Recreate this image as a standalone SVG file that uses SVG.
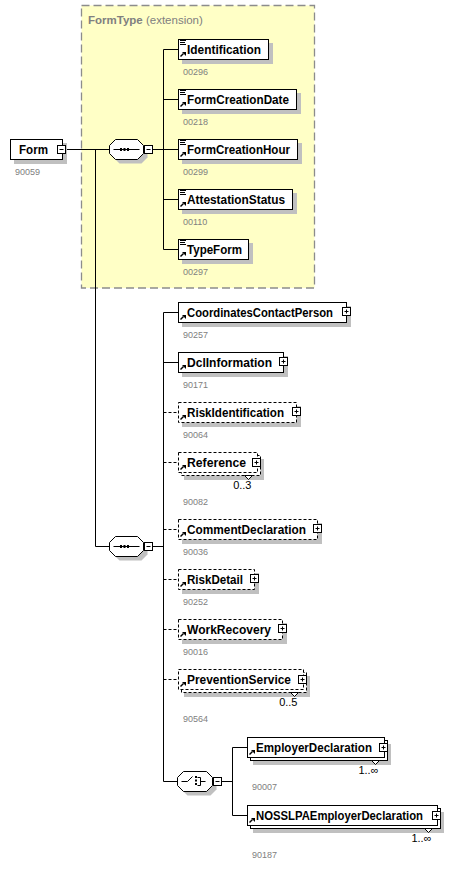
<svg xmlns="http://www.w3.org/2000/svg" width="472" height="870" viewBox="0 0 472 870">
<defs>
<style>
.area{fill:#ffffc6;stroke:#8c8c8c;stroke-width:1.3;stroke-dasharray:8,4}
.sh{fill:#c0c0c0}
.box{fill:#fff;stroke:#000;stroke-width:1}
.opt{stroke-dasharray:3,2}
.ln{fill:none;stroke:#000;stroke-width:1}
.ic{fill:none;stroke:#000;stroke-width:1}
.aw{fill:none;stroke:#000;stroke-width:1.5}
.ar{fill:#000}
.lbl{font-family:"Liberation Sans",Arial,sans-serif;font-weight:bold;font-size:12.5px;fill:#000}
.id{font-family:"Liberation Sans",Arial,sans-serif;font-size:9px;fill:#808080}
.occ{font-family:"Liberation Sans",Arial,sans-serif;font-size:11px;fill:#000}
.ttl{font-family:"Liberation Sans",Arial,sans-serif;font-size:11.5px;fill:#808080}
</style>
</defs>
<rect width="472" height="870" fill="#fff"/>

<g id="formtype-area">
<rect class="area" x="81.5" y="5.5" width="233" height="282.5"/>
<text class="ttl" x="88" y="24"><tspan font-weight="bold">FormType</tspan> (extension)</text>
</g>

<g id="connectors">
<path class="ln" d="M65.5 149.5H109.5M95.5 149.5V546.5H109.5M152.5 149.5H163.5M163.5 49.5V249.5M163.5 49.5H178.5M163.5 99.5H178.5M163.5 149.5H178.5M163.5 199.5H178.5M163.5 249.5H178.5"/>
<path class="ln" d="M152.5 546.5H163.5M163.5 312.5V781.5H177.5M163.5 312.5H178.5M163.5 362.5H178.5"/>
<path class="ln opt" d="M163.5 412.5H178.5M163.5 462.5H178.5M163.5 529.5H178.5M163.5 579.5H178.5M163.5 629.5H178.5M163.5 679.5H178.5"/>
<path class="ln" d="M221.5 781.5H232.5M232.5 747.5V815.5M232.5 747.5H247.5M232.5 815.5H247.5"/>
</g>

<g id="form">
<rect class="sh" x="14" y="143" width="53" height="21"/>
<rect class="box" x="10.5" y="139.5" width="52" height="20"/>
<rect class="box" x="57.5" y="145.5" width="8" height="8"/>
<path class="ic" d="M59.5 149.5h4"/>
<text class="lbl" x="19" y="154" textLength="29" lengthAdjust="spacingAndGlyphs">Form</text>
<text class="id" x="15" y="175">90059</text>
</g>

<g id="sequence1">
<polygon class="sh" points="119.5,143.5 141.5,143.5 147.5,149.5 147.5,157.5 141.5,163.5 119.5,163.5 113.5,157.5 113.5,149.5"/>
<polygon class="box" points="115.5,139.5 137.5,139.5 143.5,145.5 143.5,153.5 137.5,159.5 115.5,159.5 109.5,153.5 109.5,145.5"/>
<path class="ic" d="M113.5 149.5H139.5"/>
<rect class="ar" x="120" y="148" width="2" height="3"/>
<rect class="ar" x="123.5" y="148" width="2" height="3"/>
<rect class="ar" x="127" y="148" width="2" height="3"/>
<rect class="box" x="144.5" y="145.5" width="8" height="8"/>
<path class="ic" d="M146.5 149.5h4"/>
</g>

<g id="identification">
<rect class="sh" x="182" y="43" width="91" height="21"/>
<rect class="box" x="178.5" y="39.5" width="90" height="20"/>
<path class="ic" d="M180 40.5h6M180 42.5h5M180 44.5h6"/>
<path class="aw" d="M180.5 56.5L183.5 53.5"/>
<polygon class="ar" points="182,52 186,52 186,56"/>
<text class="lbl" x="187" y="54" textLength="74" lengthAdjust="spacingAndGlyphs">Identification</text>
<text class="id" x="183" y="74.5">00296</text>
</g>

<g id="formcreationdate">
<rect class="sh" x="182" y="93" width="119" height="21"/>
<rect class="box" x="178.5" y="89.5" width="118" height="20"/>
<path class="ic" d="M180 90.5h6M180 92.5h5M180 94.5h6"/>
<path class="aw" d="M180.5 106.5L183.5 103.5"/>
<polygon class="ar" points="182,102 186,102 186,106"/>
<text class="lbl" x="187" y="104" textLength="102" lengthAdjust="spacingAndGlyphs">FormCreationDate</text>
<text class="id" x="183" y="124.5">00218</text>
</g>

<g id="formcreationhour">
<rect class="sh" x="182" y="143" width="120" height="21"/>
<rect class="box" x="178.5" y="139.5" width="119" height="20"/>
<path class="ic" d="M180 140.5h6M180 142.5h5M180 144.5h6"/>
<path class="aw" d="M180.5 156.5L183.5 153.5"/>
<polygon class="ar" points="182,152 186,152 186,156"/>
<text class="lbl" x="187" y="154" textLength="103" lengthAdjust="spacingAndGlyphs">FormCreationHour</text>
<text class="id" x="183" y="174.5">00299</text>
</g>

<g id="attestationstatus">
<rect class="sh" x="182" y="193" width="115" height="21"/>
<rect class="box" x="178.5" y="189.5" width="114" height="20"/>
<path class="ic" d="M180 190.5h6M180 192.5h5M180 194.5h6"/>
<path class="aw" d="M180.5 206.5L183.5 203.5"/>
<polygon class="ar" points="182,202 186,202 186,206"/>
<text class="lbl" x="187" y="204" textLength="98" lengthAdjust="spacingAndGlyphs">AttestationStatus</text>
<text class="id" x="183" y="224.5">00110</text>
</g>

<g id="typeform">
<rect class="sh" x="182" y="243" width="71" height="21"/>
<rect class="box" x="178.5" y="239.5" width="70" height="20"/>
<path class="ic" d="M180 240.5h6M180 242.5h5M180 244.5h6"/>
<path class="aw" d="M180.5 256.5L183.5 253.5"/>
<polygon class="ar" points="182,252 186,252 186,256"/>
<text class="lbl" x="187" y="254" textLength="55" lengthAdjust="spacingAndGlyphs">TypeForm</text>
<text class="id" x="183" y="274.5">00297</text>
</g>

<g id="sequence2">
<polygon class="sh" points="119.5,540.5 141.5,540.5 147.5,546.5 147.5,554.5 141.5,560.5 119.5,560.5 113.5,554.5 113.5,546.5"/>
<polygon class="box" points="115.5,536.5 137.5,536.5 143.5,542.5 143.5,550.5 137.5,556.5 115.5,556.5 109.5,550.5 109.5,542.5"/>
<path class="ic" d="M113.5 546.5H139.5"/>
<rect class="ar" x="120" y="545" width="2" height="3"/>
<rect class="ar" x="123.5" y="545" width="2" height="3"/>
<rect class="ar" x="127" y="545" width="2" height="3"/>
<rect class="box" x="144.5" y="542.5" width="8" height="8"/>
<path class="ic" d="M146.5 546.5h4"/>
</g>

<g id="coordinatescontactperson">
<rect class="sh" x="182" y="306" width="169" height="21"/>
<rect class="box" x="178.5" y="302.5" width="168" height="20"/>
<path class="aw" d="M180.5 319.5L183.5 316.5"/>
<polygon class="ar" points="182,315 186,315 186,319"/>
<text class="lbl" x="187" y="317" textLength="146" lengthAdjust="spacingAndGlyphs">CoordinatesContactPerson</text>
<rect class="box" x="342.5" y="307.5" width="8" height="8"/>
<path class="ic" d="M344.5 311.5h4M346.5 309.5v4"/>
<text class="id" x="183" y="337.5">90257</text>
</g>

<g id="dclinformation">
<rect class="sh" x="182" y="356" width="106" height="21"/>
<rect class="box" x="178.5" y="352.5" width="105" height="20"/>
<path class="aw" d="M180.5 369.5L183.5 366.5"/>
<polygon class="ar" points="182,365 186,365 186,369"/>
<text class="lbl" x="187" y="367" textLength="85" lengthAdjust="spacingAndGlyphs">DclInformation</text>
<rect class="box" x="279.5" y="357.5" width="8" height="8"/>
<path class="ic" d="M281.5 361.5h4M283.5 359.5v4"/>
<text class="id" x="183" y="387.5">90171</text>
</g>

<g id="riskidentification">
<rect class="sh" x="182" y="406" width="119" height="21"/>
<rect class="box opt" x="178.5" y="402.5" width="118" height="20"/>
<path class="aw" d="M180.5 419.5L183.5 416.5"/>
<polygon class="ar" points="182,415 186,415 186,419"/>
<text class="lbl" x="187" y="417" textLength="97" lengthAdjust="spacingAndGlyphs">RiskIdentification</text>
<rect class="box" x="292.5" y="407.5" width="8" height="8"/>
<path class="ic" d="M294.5 411.5h4M296.5 409.5v4"/>
<text class="id" x="183" y="437.5">90064</text>
</g>

<g id="reference">
<rect class="sh" x="184" y="459" width="80" height="21"/>
<rect class="box opt" x="181.5" y="455.5" width="79" height="20"/>
<polygon class="box" points="244.5,475.5 248.5,479.5 252.5,475.5"/>
<rect class="box opt" x="178.5" y="452.5" width="79" height="20"/>
<path class="aw" d="M180.5 469.5L183.5 466.5"/>
<polygon class="ar" points="182,465 186,465 186,469"/>
<text class="lbl" x="187" y="467" textLength="59" lengthAdjust="spacingAndGlyphs">Reference</text>
<rect class="box" x="252.5" y="458.5" width="8" height="8"/>
<path class="ic" d="M254.5 462.5h4M256.5 460.5v4"/>
<text class="occ" x="251.5" y="489" text-anchor="end">0..3</text>
<text class="id" x="183" y="505">90082</text>
</g>

<g id="commentdeclaration">
<rect class="sh" x="182" y="523" width="140" height="21"/>
<rect class="box opt" x="178.5" y="519.5" width="139" height="20"/>
<path class="aw" d="M180.5 536.5L183.5 533.5"/>
<polygon class="ar" points="182,532 186,532 186,536"/>
<text class="lbl" x="187" y="534" textLength="119" lengthAdjust="spacingAndGlyphs">CommentDeclaration</text>
<rect class="box" x="313.5" y="524.5" width="8" height="8"/>
<path class="ic" d="M315.5 528.5h4M317.5 526.5v4"/>
<text class="id" x="183" y="554.5">90036</text>
</g>

<g id="riskdetail">
<rect class="sh" x="182" y="573" width="77" height="21"/>
<rect class="box opt" x="178.5" y="569.5" width="76" height="20"/>
<path class="aw" d="M180.5 586.5L183.5 583.5"/>
<polygon class="ar" points="182,582 186,582 186,586"/>
<text class="lbl" x="187" y="584" textLength="56" lengthAdjust="spacingAndGlyphs">RiskDetail</text>
<rect class="box" x="250.5" y="574.5" width="8" height="8"/>
<path class="ic" d="M252.5 578.5h4M254.5 576.5v4"/>
<text class="id" x="183" y="604.5">90252</text>
</g>

<g id="workrecovery">
<rect class="sh" x="182" y="623" width="105" height="21"/>
<rect class="box opt" x="178.5" y="619.5" width="104" height="20"/>
<path class="aw" d="M180.5 636.5L183.5 633.5"/>
<polygon class="ar" points="182,632 186,632 186,636"/>
<text class="lbl" x="187" y="634" textLength="84" lengthAdjust="spacingAndGlyphs">WorkRecovery</text>
<rect class="box" x="278.5" y="624.5" width="8" height="8"/>
<path class="ic" d="M280.5 628.5h4M282.5 626.5v4"/>
<text class="id" x="183" y="654.5">90016</text>
</g>

<g id="preventionservice">
<rect class="sh" x="184" y="676" width="126" height="21"/>
<rect class="box opt" x="181.5" y="672.5" width="125" height="20"/>
<polygon class="box" points="290.5,692.5 294.5,696.5 298.5,692.5"/>
<rect class="box opt" x="178.5" y="669.5" width="125" height="20"/>
<path class="aw" d="M180.5 686.5L183.5 683.5"/>
<polygon class="ar" points="182,682 186,682 186,686"/>
<text class="lbl" x="187" y="684" textLength="104" lengthAdjust="spacingAndGlyphs">PreventionService</text>
<rect class="box" x="298.5" y="675.5" width="8" height="8"/>
<path class="ic" d="M300.5 679.5h4M302.5 677.5v4"/>
<text class="occ" x="297.5" y="706" text-anchor="end">0..5</text>
<text class="id" x="183" y="722">90564</text>
</g>

<g id="choice">
<polygon class="sh" points="187.5,775.5 210.5,775.5 216.5,781.5 216.5,789.5 210.5,795.5 187.5,795.5 181.5,789.5 181.5,781.5"/>
<polygon class="box" points="183.5,771.5 206.5,771.5 212.5,777.5 212.5,785.5 206.5,791.5 183.5,791.5 177.5,785.5 177.5,777.5"/>
<path class="ic" d="M181.5 781.5H187.5L192.5 776.5"/>
<rect class="ar" x="195" y="776" width="2" height="2"/>
<rect class="ar" x="195" y="779.5" width="2" height="2"/>
<rect class="ar" x="195" y="783" width="2" height="2"/>
<path class="ic" d="M197.5 777.5H200.5V785.5H197.5M200.5 781.5H205.5"/>
<rect class="box" x="213.5" y="777.5" width="8" height="8"/>
<path class="ic" d="M215.5 781.5h4"/>
</g>

<g id="employerdeclaration">
<rect class="sh" x="253" y="744" width="138" height="21"/>
<rect class="box" x="250.5" y="740.5" width="137" height="20"/>
<polygon class="box" points="371.5,760.5 375.5,764.5 379.5,760.5"/>
<rect class="box" x="247.5" y="737.5" width="137" height="20"/>
<path class="aw" d="M249.5 754.5L252.5 751.5"/>
<polygon class="ar" points="251,750 255,750 255,754"/>
<text class="lbl" x="256" y="752" textLength="116" lengthAdjust="spacingAndGlyphs">EmployerDeclaration</text>
<rect class="box" x="379.5" y="743.5" width="8" height="8"/>
<path class="ic" d="M381.5 747.5h4M383.5 745.5v4"/>
<text class="occ" x="378.5" y="774" text-anchor="end">1..∞</text>
<text class="id" x="252" y="790">90007</text>
</g>

<g id="nosslpaemployerdeclaration">
<rect class="sh" x="253" y="812" width="191" height="21"/>
<rect class="box" x="250.5" y="808.5" width="190" height="20"/>
<polygon class="box" points="424.5,828.5 428.5,832.5 432.5,828.5"/>
<rect class="box" x="247.5" y="805.5" width="190" height="20"/>
<path class="aw" d="M249.5 822.5L252.5 819.5"/>
<polygon class="ar" points="251,818 255,818 255,822"/>
<text class="lbl" x="256" y="820" textLength="167" lengthAdjust="spacingAndGlyphs">NOSSLPAEmployerDeclaration</text>
<rect class="box" x="432.5" y="811.5" width="8" height="8"/>
<path class="ic" d="M434.5 815.5h4M436.5 813.5v4"/>
<text class="occ" x="431.5" y="842" text-anchor="end">1..∞</text>
<text class="id" x="252" y="858">90187</text>
</g>
</svg>
